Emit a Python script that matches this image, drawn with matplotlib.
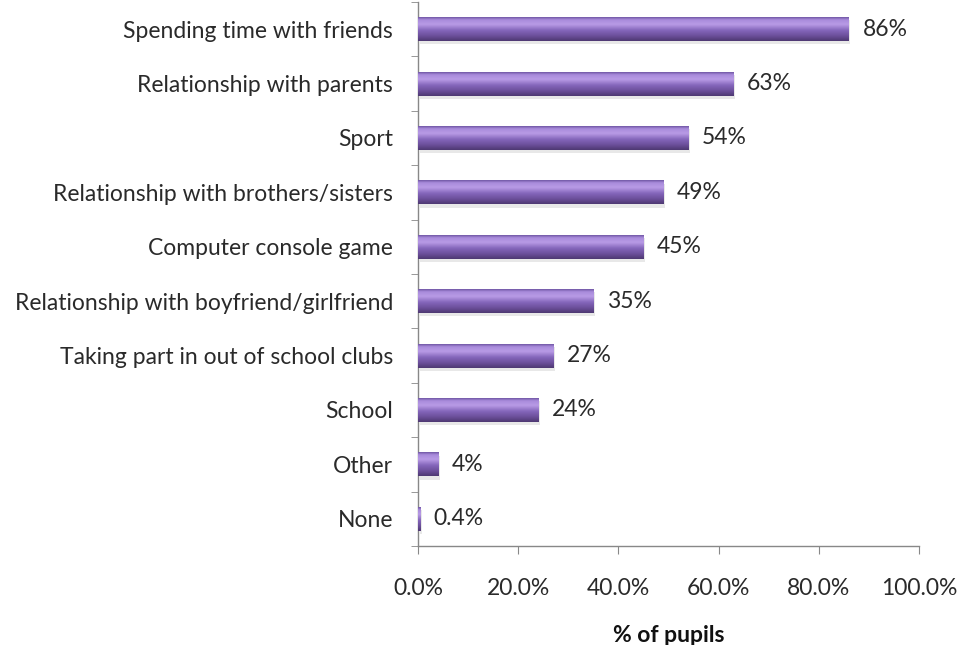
import matplotlib
matplotlib.use("Agg")
import matplotlib.pyplot as plt
import numpy as np
from matplotlib.colors import LinearSegmentedColormap

categories = [
    "Spending time with friends",
    "Relationship with parents",
    "Sport",
    "Relationship with brothers/sisters",
    "Computer console game",
    "Relationship with boyfriend/girlfriend",
    "Taking part in out of school clubs",
    "School",
    "Other",
    "None",
]
values = [86, 63, 54, 49, 45, 35, 27, 24, 4, 0.4]
value_labels = ["86%", "63%", "54%", "49%", "45%", "35%", "27%", "24%", "4%", "0.4%"]
x_ticks = [0, 20, 40, 60, 80, 100]
x_tick_labels = ["0.0%", "20.0%", "40.0%", "60.0%", "80.0%", "100.0%"]

plt.rcParams["font.family"] = ["Lato", "DejaVu Sans"]
FS = 16.5
TXT = "#2a2a2a"

fig = plt.figure(figsize=(9.59, 6.45), dpi=100)
ax = fig.add_axes([418 / 959, 1 - 546 / 645, (919 - 418) / 959, 544 / 645])

n = len(categories)
ypos = np.arange(n)
bar_h = 0.44

# vertical shading for a rounded, glossy bar look (top -> bottom)
shade = LinearSegmentedColormap.from_list(
    "bar_shade",
    [(0.0, "#6f55a3"), (0.1, "#a88bdb"), (0.3, "#b99be6"),
     (0.55, "#8566bb"), (0.8, "#6a4e99"), (1.0, "#4e3872")],
)
grad = np.linspace(0, 1, 64).reshape(-1, 1)

bars = ax.barh(ypos, values, height=bar_h, color="#7f60b0", edgecolor="none", zorder=2)
for b in bars:
    x0, y0 = b.get_x(), b.get_y()
    w, h = b.get_width(), b.get_height()
    # soft shadow under the bar
    ax.barh(y0 + h / 2 + 0.06, w, height=h, left=x0 + 0.3,
            color="#9a9a9a", alpha=0.22, edgecolor="none", zorder=1)
    im = ax.imshow(grad, cmap=shade, aspect="auto",
                   extent=(x0, x0 + w, y0 + h, y0), zorder=3,
                   interpolation="bicubic")
    im.set_clip_path(b)

for y, v, lab in zip(ypos, values, value_labels):
    ax.text(v + 2.7, y, lab, va="center", ha="left", fontsize=FS, color=TXT)

ax.set_xlim(0, 100)
ax.set_ylim(n - 0.5, -0.5)
ax.set_yticks(ypos)
ax.set_yticklabels(categories, fontsize=FS, color=TXT)
ax.set_yticks(np.arange(-0.5, n, 1), minor=True)
ax.tick_params(axis="y", which="major", length=0, pad=18)
ax.tick_params(axis="y", which="minor", length=5, color="#888888", direction="out")
ax.set_xticks(x_ticks)
ax.set_xticklabels(x_tick_labels, fontsize=FS, color=TXT)
ax.tick_params(axis="x", length=6, color="#888888", direction="out", pad=17)

for s in ["top", "right"]:
    ax.spines[s].set_visible(False)
for s in ["left", "bottom"]:
    ax.spines[s].set_color("#888888")
    ax.spines[s].set_linewidth(1.0)

ax.set_xlabel("% of pupils", fontsize=FS, fontweight="bold", labelpad=19, color="#111111")

fig.savefig("out.png", dpi=100)
